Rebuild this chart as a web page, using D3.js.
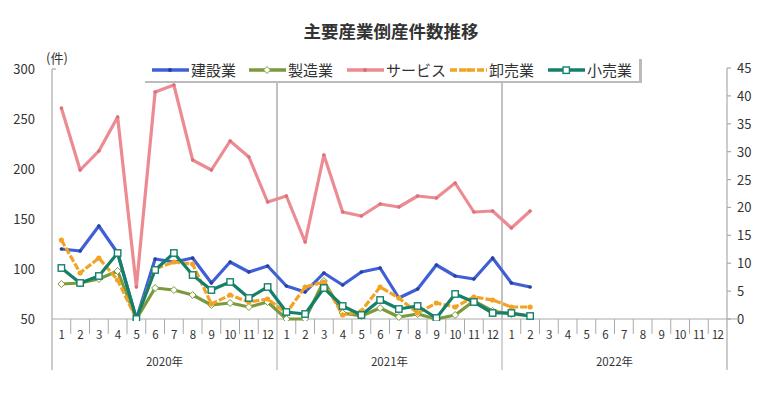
<!DOCTYPE html>
<html>
<head>
<meta charset="utf-8">
<script src="https://cdn.jsdelivr.net/npm/d3@7"></script>
<style>
body { margin: 0; background: #fff; }
text { font-family: "Noto Sans CJK JP", "Noto Sans", sans-serif; fill: #333; }
</style>
</head>
<body>
<svg></svg>
<script>
var width = 781;
var height = 394;

// data
var years = ['2020年', '2021年', '2022年'];
var monthLabels = ['1','2','3','4','5','6','7','8','9','10','11','12'];
var leftTicks = [50, 100, 150, 200, 250, 300];
var rightTicks = [0, 5, 10, 15, 20, 25, 30, 35, 40, 45];

var construction = [120,118,143,116,50,110,107,111,86,107,97,103, 83,77,96,84,97,101,71,80,104,93,90,111, 86,82];
var manufacturing = [85,86,90,98,50,81,79,74,64,66,62,67, 50,50,88,56,53,61,52,55,50,54,68,58, 55,53];
var service = [261,199,218,252,82,277,284,209,199,228,212,167, 173,127,214,157,153,165,162,173,171,186,157,158, 141,158];
var wholesale = [129,96,111,89,50,100,107,105,65,74,67,70, 56,82,87,54,58,82,71,56,66,62,72,69, 62,62];
var retail = [101,86,93,116,50,99,116,94,79,87,71,82, 57,55,81,63,54,69,60,63,51,75,67,56, 56,53];

var seriesNames = ['建設業', '製造業', 'サービス', '卸売業', '小売業'];
var seriesData = [construction, manufacturing, service, wholesale, retail];
var seriesColors = ['#3f5fd6', '#7a9a3c', '#ec8b92', '#f2a324', '#15806a'];

var months = [];
years.forEach(function(y, yi) {
    monthLabels.forEach(function(m, mi) { months.push(yi * 12 + mi); });
});

var svg = d3.select('svg')
    .attr('width', width)
    .attr('height', height);

var x = d3.scaleBand()
    .domain(months)
    .range([52, 727]);

var y = d3.scaleLinear()
    .domain([50, 300])
    .range([319, 69]);

var y2 = d3.scaleLinear()
    .domain([0, 45])
    .range([319, 68]);

// title
svg.append('text')
    .attr('x', 391)
    .attr('y', 38)
    .attr('text-anchor', 'middle')
    .style('font-size', '17.5px')
    .style('font-weight', 'bold')
    .text('主要産業倒産件数推移');

svg.append('text')
    .attr('x', 57)
    .attr('y', 63)
    .attr('text-anchor', 'middle')
    .style('font-size', '13px')
    .text('(件)');

// year separators inside plot
[277, 502].forEach(function(d) {
    svg.append('line')
        .attr('x1', d).attr('x2', d)
        .attr('y1', 69).attr('y2', 319)
        .attr('stroke', '#999')
        .attr('stroke-width', 1.2);
});

// left axis
svg.append('line')
    .attr('x1', 52).attr('x2', 52)
    .attr('y1', 69).attr('y2', 370)
    .attr('stroke', '#aaa').attr('stroke-width', 1.2);
svg.append('line')
    .attr('x1', 52).attr('x2', 56)
    .attr('y1', 69).attr('y2', 69)
    .attr('stroke', '#aaa').attr('stroke-width', 1.2);
svg.selectAll('.ltick')
    .data(leftTicks)
    .enter().append('text')
    .attr('class', 'ltick')
    .attr('x', 35)
    .attr('y', function(d) { return y(d) + 5; })
    .attr('text-anchor', 'end')
    .style('font-size', '13px')
    .text(function(d) { return d; });

// right axis
svg.append('line')
    .attr('x1', 727).attr('x2', 727)
    .attr('y1', 68).attr('y2', 370)
    .attr('stroke', '#aaa').attr('stroke-width', 1.2);
svg.selectAll('.rtickline')
    .data(rightTicks)
    .enter().append('line')
    .attr('x1', 727).attr('x2', 731)
    .attr('y1', function(d) { return y2(d); })
    .attr('y2', function(d) { return y2(d); })
    .attr('stroke', '#aaa').attr('stroke-width', 1.2);
svg.selectAll('.rtick')
    .data(rightTicks)
    .enter().append('text')
    .attr('class', 'rtick')
    .attr('x', 737)
    .attr('y', function(d) { return y2(d) + 5; })
    .style('font-size', '13px')
    .text(function(d) { return d; });

// x axis
svg.append('line')
    .attr('x1', 52).attr('x2', 740)
    .attr('y1', 319).attr('y2', 319)
    .attr('stroke', '#aaa').attr('stroke-width', 1.2);
svg.selectAll('.mtick')
    .data(months.slice(1))
    .enter().append('line')
    .attr('x1', function(d) { return x(d); })
    .attr('x2', function(d) { return x(d); })
    .attr('y1', 319)
    .attr('y2', function(d) { return d % 12 === 0 ? 370 : 334; })
    .attr('stroke', '#aaa').attr('stroke-width', 1);
svg.selectAll('.mlabel')
    .data(months)
    .enter().append('text')
    .attr('x', function(d) { return x(d) + x.bandwidth() / 2; })
    .attr('y', 339)
    .attr('text-anchor', 'middle')
    .style('font-size', '11.5px')
    .style('letter-spacing', '-0.5px')
    .text(function(d) { return monthLabels[d % 12]; });
svg.selectAll('.ylabel')
    .data(years)
    .enter().append('text')
    .attr('x', function(d, i) { return x(i * 12) + x.bandwidth() * 6; })
    .attr('y', 366)
    .attr('text-anchor', 'middle')
    .style('font-size', '11.5px')
    .text(function(d) { return d; });

// clip
svg.append('clipPath').attr('id', 'plot')
    .append('rect').attr('x', 40).attr('y', 60).attr('width', 700).attr('height', 261);

var line = d3.line()
    .x(function(d, i) { return x(months[i]) + x.bandwidth() / 2; })
    .y(function(d) { return y(d); });

var plot = svg.append('g').attr('clip-path', 'url(#plot)');

// draw order: service, construction, manufacturing, wholesale, retail
[2, 0, 1, 3, 4].forEach(function(k) {
    var data = seriesData[k];
    var col = seriesColors[k];
    var g = plot.append('g');
    g.append('path')
        .datum(data)
        .attr('d', line)
        .attr('fill', 'none')
        .attr('stroke', col)
        .attr('stroke-width', 3.2)
        .attr('stroke-linejoin', 'round')
        .attr('stroke-dasharray', k === 3 ? '7,2' : null);
    var pts = g.selectAll('.pt').data(data).enter();
    var cx = function(d, i) { return x(months[i]) + x.bandwidth() / 2; };
    if (k === 0 || k === 2 || k === 3) {
        pts.append('circle')
            .attr('cx', cx)
            .attr('cy', function(d) { return y(d); })
            .attr('r', k === 3 ? 2.6 : 1.8)
            .attr('fill', k === 0 ? '#2a3f9a' : (k === 2 ? '#d9707a' : '#f2a324'));
    } else if (k === 1) {
        pts.append('path')
            .attr('d', 'M0,-3.5L3.5,0L0,3.5L-3.5,0Z')
            .attr('transform', function(d, i) { return 'translate(' + cx(d, i) + ',' + y(d) + ')'; })
            .attr('fill', '#fff')
            .attr('stroke', col)
            .attr('stroke-width', 1);
    } else {
        pts.append('rect')
            .attr('x', function(d, i) { return cx(d, i) - 3.2; })
            .attr('y', function(d) { return y(d) - 3.2; })
            .attr('width', 6.4).attr('height', 6.4)
            .attr('fill', '#fff')
            .attr('stroke', col)
            .attr('stroke-width', 1.4);
    }
});

// legend
var legend = svg.append('g');
legend.append('rect')
    .attr('x', 145).attr('y', 59)
    .attr('width', 497).attr('height', 24)
    .attr('fill', '#bbb');
legend.append('rect')
    .attr('x', 142).attr('y', 56)
    .attr('width', 497).attr('height', 25)
    .attr('fill', '#fff');
var legX = [152, 249, 347, 450, 548];
seriesNames.forEach(function(name, k) {
    var lx = legX[k];
    var col = seriesColors[k];
    legend.append('line')
        .attr('x1', lx).attr('x2', lx + 37)
        .attr('y1', 70).attr('y2', 70)
        .attr('stroke', col).attr('stroke-width', 3.4)
        .attr('stroke-dasharray', k === 3 ? '7,2' : null);
    if (k === 1) {
        legend.append('path')
            .attr('d', 'M0,-3.5L3.5,0L0,3.5L-3.5,0Z')
            .attr('transform', 'translate(' + (lx + 18) + ',70)')
            .attr('fill', '#fff').attr('stroke', col);
    } else if (k === 4) {
        legend.append('rect')
            .attr('x', lx + 15).attr('y', 67).attr('width', 6.4).attr('height', 6.4)
            .attr('fill', '#fff').attr('stroke', col).attr('stroke-width', 1.4);
    } else {
        legend.append('circle')
            .attr('cx', lx + 18).attr('cy', 70).attr('r', 2)
            .attr('fill', k === 0 ? '#2a3f9a' : (k === 2 ? '#d9707a' : '#f2a324'));
    }
    legend.append('text')
        .attr('x', lx + 39)
        .attr('y', 75.5)
        .style('font-size', '15px')
        .text(name);
});
</script>
</body>
</html>
